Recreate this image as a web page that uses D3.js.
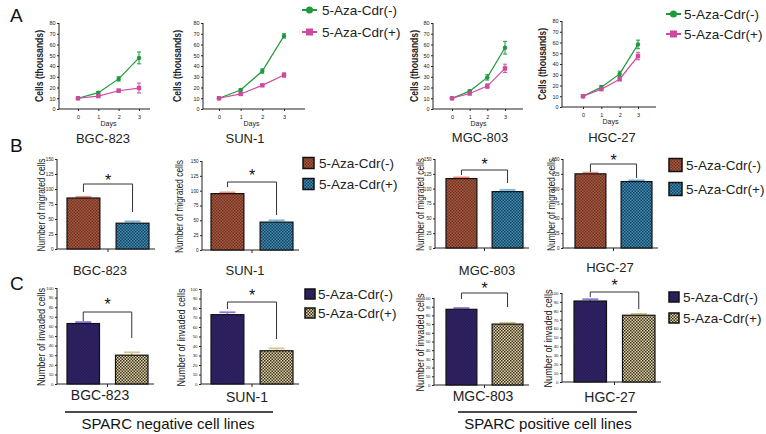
<!DOCTYPE html>
<html><head><meta charset="utf-8">
<script src="https://cdn.jsdelivr.net/npm/d3@7"></script>
<style>body{margin:0;background:#fff}svg{display:block;font-family:"Liberation Sans",Arial,sans-serif}</style>
</head><body><svg id="c" width="766" height="434"></svg>
<script>
// ---------------- DATA ----------------
const cellLines = ["BGC-823","SUN-1","MGC-803","HGC-27"];
const seriesNames = ["5-Aza-Cdr(-)","5-Aza-Cdr(+)"];
const days = [0,1,2,3];
const growthMinus    = [[10,15.2,28,47.5],[10,17.7,35.3,68],[10,16.6,29.4,57],[10,18.5,30.8,58.2]];
const growthMinusErr = [[0.6,1,2,5.5],[0.6,1,2,2],[0.6,1,2.5,5.9],[0.6,1.5,2.5,4]];
const growthPlus     = [[10,12,17,19.5],[10,14,22,31.6],[10,14.4,21.3,37.8],[10,16.6,25.9,47.4]];
const growthPlusErr  = [[0.6,1,1.5,4.6],[0.6,1,1,2],[0.6,1,2,3.9],[0.6,1,1.5,3.5]];
const growthTicks = [0,10,20,30,40,50,60,70,80];
const migratedMinus = [85,95,117,125];
const migratedMinusErr = [2,2,2,2];
const migratedPlus = [43,47,95,112];
const migratedPlusErr = [3,3,3,2];
const migrationTicks = [0,25,50,75,100,125,150];
const invadedMinus = [63,73,87,91];
const invadedMinusErr = [1.5,2.5,1.5,2];
const invadedPlus = [30,35,70,75];
const invadedPlusErr = [3,2.5,1.5,1.5];
const invasionTicks = [0,10,20,30,40,50,60,70,80,90,100];
const groupLabels = ["SPARC negative cell lines","SPARC positive cell lines"];
const panelLetters = ["A","B","C"];

// ---------------- LAYOUT ----------------
const FONT = '"Liberation Sans",Arial,sans-serif';
const svg = d3.select("#c");
const defs = svg.append("defs");

function checker(id, c1, c2, s){
  const p = defs.append("pattern").attr("id",id).attr("patternUnits","userSpaceOnUse")
    .attr("width",s*2).attr("height",s*2);
  p.append("rect").attr("width",s*2).attr("height",s*2).attr("fill",c1);
  p.append("rect").attr("width",s).attr("height",s).attr("fill",c2);
  p.append("rect").attr("x",s).attr("y",s).attr("width",s).attr("height",s).attr("fill",c2);
}
checker("pBm","#a8583f","#6f3324",1.5);
checker("pBp","#3f8fb8","#17405a",1.5);
checker("pCm","#33246a","#251a52",1.5);
checker("pCp","#e0d3a3","#3a3326",1.5);

const GREEN = "#1c9a3c", PINK = "#cf4a9f";

function vlabel(x, yc, len, fs, text, bold){
  svg.append("text").attr("transform",`translate(${x},${yc}) rotate(-90)`)
    .attr("text-anchor","middle").attr("font-size",fs).attr("font-weight",bold?"bold":"normal")
    .attr("fill","#222").attr("textLength",len).attr("lengthAdjust","spacingAndGlyphs").text(text);
}

// panel letters
[[10,22],[10,152],[10,290]].forEach((p,i)=>{
  svg.append("text").attr("x",p[0]).attr("y",p[1]).attr("font-size",19).attr("fill","#111").text(panelLetters[i]);
});

// ---------- Panel A: growth ----------
const layA = [
  {ax:59, right:150, d0:78, d3:139, top:23, bot:109, ylab:43},
  {ax:203, right:305, d0:219, d3:284, top:23, bot:109, ylab:181},
  {ax:433, right:523, d0:452, d3:505, top:23, bot:109, ylab:418},
  {ax:562, right:656, d0:583, d3:638, top:21, bot:107, ylab:546}
];
layA.forEach((L,i)=>{
  const x = d3.scaleLinear().domain([0,3]).range([L.d0,L.d3]);
  const y = d3.scaleLinear().domain([0,80]).range([L.bot,L.top]);
  const g = svg.append("g");
  const ya = g.append("g").attr("transform",`translate(${L.ax},0)`)
    .call(d3.axisLeft(y).tickValues(growthTicks).tickSize(2).tickPadding(1.5));
  const xa = g.append("g").attr("transform",`translate(0,${L.bot})`)
    .call(d3.axisBottom(x).tickValues(days).tickFormat(d3.format("d")).tickSize(2).tickPadding(4));
  [ya,xa].forEach(a=>{a.select(".domain").remove();a.selectAll("text").attr("font-size",5.5).attr("font-family",FONT).attr("fill","#222");a.selectAll("line").attr("stroke","#222");});
  g.append("line").attr("x1",L.ax).attr("x2",L.ax).attr("y1",y(80)).attr("y2",L.bot).attr("stroke","#222");
  g.append("line").attr("x1",L.ax).attr("x2",L.right).attr("y1",L.bot).attr("y2",L.bot).attr("stroke","#222");
  g.append("text").attr("x",(L.d0+L.d3)/2).attr("y",L.bot+17).attr("text-anchor","middle")
    .attr("font-size",7).attr("fill","#222").text("Days");
  vlabel(L.ylab,(L.top+L.bot)/2,72,10,"Cells (thousands)",true);
  const sets = [[growthMinus[i],growthMinusErr[i],GREEN,"c"],[growthPlus[i],growthPlusErr[i],PINK,"s"]];
  sets.forEach(([vals,errs,col,shape])=>{
    const line = d3.line().x((d,j)=>x(days[j])).y(d=>y(d));
    g.append("path").attr("d",line(vals)).attr("fill","none").attr("stroke",col).attr("stroke-width",1.2);
    vals.forEach((v,j)=>{
      const cx = x(days[j]);
      g.append("line").attr("x1",cx).attr("x2",cx).attr("y1",y(v-errs[j])).attr("y2",y(v+errs[j])).attr("stroke",col).attr("stroke-width",1);
      [v-errs[j],v+errs[j]].forEach(e=>g.append("line").attr("x1",cx-2).attr("x2",cx+2).attr("y1",y(e)).attr("y2",y(e)).attr("stroke",col).attr("stroke-width",1));
      if(shape==="c") g.append("circle").attr("cx",cx).attr("cy",y(v)).attr("r",2.2).attr("fill",col);
      else g.append("rect").attr("x",cx-2.2).attr("y",y(v)-2.2).attr("width",4.4).attr("height",4.4).attr("fill",col);
    });
  });
});
// legends A
[{x:302,y1:10,y2:32,tx:322},{x:666,y1:14,y2:34,tx:684}].forEach(Lg=>{
  [[GREEN,"c",Lg.y1,seriesNames[0]],[PINK,"s",Lg.y2,seriesNames[1]]].forEach(([col,sh,yy,t])=>{
    svg.append("line").attr("x1",Lg.x).attr("x2",Lg.x+15).attr("y1",yy).attr("y2",yy).attr("stroke",col).attr("stroke-width",2);
    if(sh==="c") svg.append("circle").attr("cx",Lg.x+7.5).attr("cy",yy).attr("r",3.5).attr("fill",col);
    else svg.append("rect").attr("x",Lg.x+4).attr("y",yy-3.5).attr("width",7).attr("height",7).attr("fill",col);
    svg.append("text").attr("x",Lg.tx).attr("y",yy+5).attr("font-size",13.5).attr("fill","#222").text(t);
  });
});

// ---------- Bar panels (B and C) ----------
function barPanel(L, vals, errs, ticks, maxV, fills, errCols, ylabel, tickFs, ylen){
  const x = d3.scaleBand().domain([0,1]).range([L.b0,L.b1]).paddingInner(0.33);
  const y = d3.scaleLinear().domain([0,maxV]).range([L.bot,L.top]);
  const g = svg.append("g");
  const ya = g.append("g").attr("transform",`translate(${L.ax},0)`)
    .call(d3.axisLeft(y).tickValues(ticks).tickSize(2).tickPadding(1.5));
  ya.select(".domain").remove();
  ya.selectAll("text").attr("font-size",tickFs).attr("font-family",FONT).attr("fill","#222");
  ya.selectAll("line").attr("stroke","#222");
  g.append("line").attr("x1",L.ax).attr("x2",L.ax).attr("y1",L.top).attr("y2",L.bot).attr("stroke","#222");
  g.append("line").attr("x1",L.ax).attr("x2",L.b1+6).attr("y1",L.bot).attr("y2",L.bot).attr("stroke","#222");
  const mid = (x(0)+x(1)+x.bandwidth())/2;
  g.append("line").attr("x1",mid).attr("x2",mid).attr("y1",L.bot).attr("y2",L.bot+3).attr("stroke","#222");
  vals.forEach((v,j)=>{
    const bx = x(j), bw = x.bandwidth();
    g.append("line").attr("x1",bx+bw/2).attr("x2",bx+bw/2).attr("y1",y(v)).attr("y2",y(v+errs[j])).attr("stroke",errCols[j]).attr("stroke-width",1.5);
    g.append("line").attr("x1",bx+bw/2-8).attr("x2",bx+bw/2+8).attr("y1",y(v+errs[j])).attr("y2",y(v+errs[j])).attr("stroke",errCols[j]).attr("stroke-width",1.8);
    g.append("rect").attr("x",bx).attr("y",y(v)).attr("width",bw).attr("height",L.bot-y(v))
      .attr("fill",fills[j]).attr("stroke","#111").attr("stroke-width",1.2);
  });
  const c0 = x(0)+x.bandwidth()/2, c1 = x(1)+x.bandwidth()/2;
  g.append("path").attr("d",`M${c0},${L.lEnd}V${L.brY}H${c1}V${L.rEnd}`).attr("fill","none").attr("stroke","#333").attr("stroke-width",1);
  g.append("text").attr("x",(c0+c1)/2).attr("y",L.starY+8).attr("text-anchor","middle").attr("font-size",16).attr("fill","#111").text("*");
  vlabel(L.ylab,(L.top+L.bot)/2+1,ylen,10.5,ylabel,false);
  return mid;
}
function legendBoxes(Lg, fills){
  seriesNames.forEach((t,j)=>{
    const yy = Lg.ys[j];
    svg.append("rect").attr("x",Lg.x).attr("y",yy-Lg.s/2).attr("width",Lg.s).attr("height",Lg.s)
      .attr("fill",fills[j]).attr("stroke","#111").attr("stroke-width",1.5);
    svg.append("text").attr("x",Lg.tx).attr("y",yy+5).attr("font-size",13.5).attr("fill","#222").text(t);
  });
}

// Panel B
const layB = [
  {ax:57, top:159, bot:249, b0:67, b1:149, ylab:45, brY:184, lEnd:192, rEnd:212, starY:178, title:[103,143]},
  {ax:202, top:161, bot:250, b0:211, b1:293, ylab:183, brY:182, lEnd:187, rEnd:215, starY:173, title:[245,143]},
  {ax:435, top:159, bot:248, b0:446, b1:523, ylab:424, brY:170, lEnd:175, rEnd:183, starY:162, title:[480,142]},
  {ax:563, top:159, bot:248, b0:575, b1:652, ylab:555, brY:164, lEnd:172, rEnd:178, starY:158, title:[612,142]}
];
const fillsB = ["url(#pBm)","url(#pBp)"];
layB.forEach((L,i)=>{
  barPanel(L,[migratedMinus[i],migratedPlus[i]],[migratedMinusErr[i],migratedPlusErr[i]],migrationTicks,150,fillsB,["#f58a76","#74b8e0"],"Number of migrated cells",4.6,93);
  svg.append("text").attr("x",L.title[0]).attr("y",L.title[1]).attr("text-anchor","middle").attr("font-size",13).attr("fill","#222").text(cellLines[i]);
});
legendBoxes({x:303,s:11,tx:319,ys:[163,184]},fillsB);
legendBoxes({x:669,s:13,tx:686,ys:[165,189]},fillsB);

// Panel C
const layC = [
  {ax:57, top:288, bot:384, b0:67, b1:148, ylab:45, brY:312, lEnd:321, rEnd:338, starY:302, title:[100,275], lab:[100,400]},
  {ax:201, top:289, bot:384, b0:211, b1:293, ylab:185, brY:302, lEnd:309, rEnd:339, starY:293, title:[245,275], lab:[247,402]},
  {ax:434, top:298, bot:385, b0:446, b1:523, ylab:424, brY:293, lEnd:299, rEnd:307, starY:286, title:[487,275], lab:[483,401]},
  {ax:562, top:293, bot:382, b0:574, b1:655, ylab:552, brY:292, lEnd:297, rEnd:309, starY:283, title:[610,272], lab:[610,402]}
];
const fillsC = ["url(#pCm)","url(#pCp)"];
layC.forEach((L,i)=>{
  barPanel(L,[invadedMinus[i],invadedPlus[i]],[invadedMinusErr[i],invadedPlusErr[i]],invasionTicks,100,fillsC,["#8e78d8","#dcc486"],"Number of invaded cells",4.3,98);
  svg.append("text").attr("x",L.title[0]).attr("y",L.title[1]).attr("text-anchor","middle").attr("font-size",13).attr("fill","#222").text(cellLines[i]);
  svg.append("text").attr("x",L.lab[0]).attr("y",L.lab[1]).attr("text-anchor","middle").attr("font-size",14).attr("fill","#222").text(cellLines[i]);
});
legendBoxes({x:305,s:10,tx:318,ys:[294,313]},fillsC);
legendBoxes({x:669,s:10,tx:683,ys:[297,318]},fillsC);

// group lines
[{x1:65,x2:273,tx:168},{x1:458,x2:637,tx:548}].forEach((G,i)=>{
  svg.append("line").attr("x1",G.x1).attr("x2",G.x2).attr("y1",412).attr("y2",412).attr("stroke","#111").attr("stroke-width",1.5);
  svg.append("text").attr("x",G.tx).attr("y",429).attr("text-anchor","middle").attr("font-size",15).attr("fill","#111").text(groupLabels[i]);
});
</script></body></html>
